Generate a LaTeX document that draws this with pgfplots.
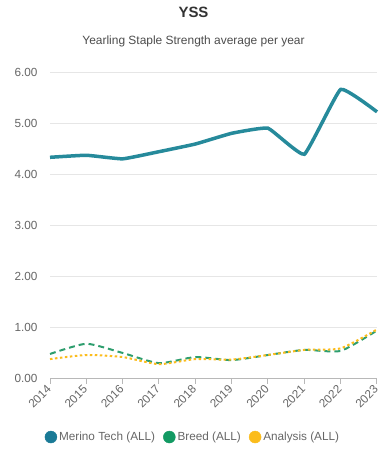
\documentclass[border=0pt]{standalone}
\usepackage{pgfplots}
\pgfplotsset{compat=1.18}
\usepackage{fontspec}
\setmainfont{Liberation Sans}
\definecolor{mcol}{HTML}{268A9B}
\definecolor{mleg}{HTML}{1A7A96}
\definecolor{bcol}{HTML}{2E9E6E}
\definecolor{bleg}{HTML}{139A63}
\definecolor{acol}{HTML}{FBBC1C}
\definecolor{txt}{HTML}{666666}
\definecolor{gridc}{HTML}{E6E6E6}
\begin{document}
\begin{tikzpicture}
\useasboundingbox (0,0) rectangle (387bp,450bp);
\node[font=\fontsize{15}{18}\selectfont\bfseries, text=black!80] at (193.5bp,438bp) {YSS};
\node[font=\fontsize{12}{14}\selectfont, text=black!70] at (193.5bp,409bp) {Yearling Staple Strength average per year};
\begin{axis}[
  at={(50bp,71.5bp)}, anchor=south west,
  scale only axis, width=327bp, height=306.5bp,
  xmin=2014, xmax=2023, ymin=0, ymax=6,
  xtick={2014,...,2023},
  xticklabels={2014,2015,2016,2017,2018,2019,2020,2021,2022,2023},
  ytick={0,1,2,3,4,5,6},
  yticklabel style={/pgf/number format/fixed, /pgf/number format/fixed zerofill, /pgf/number format/precision=2},
  /pgf/number format/assume math mode=true,
  ymajorgrids, grid style={gridc, line width=1bp},
  axis x line*=bottom,
  axis y line*=left,
  y axis line style={draw=none},
  x axis line style={draw=gridc!80!black, line width=1bp, -},
  separate axis lines,
  tick align=outside,
  xtick style={draw=gridc!80!black, line width=1bp},
  major tick length=5bp,
  ytick style={draw=none},
  tick label style={font=\fontsize{11.8}{14}\selectfont, text=txt},
  x tick label style={rotate=45, anchor=east, xshift=0bp, yshift=-2bp},
  y tick label style={xshift=-4bp},
  clip=false,
  legend columns=3,
  legend style={at={(0.437,-0.191)}, anchor=center, draw=none, fill=none,
    font=\fontsize{11.8}{14}\selectfont, text=txt,
    /tikz/every even column/.append style={column sep=6bp},
    inner sep=0pt},
]
\addplot[mcol, line width=3.5bp, smooth, tension=0.2, forget plot] coordinates {
(2014,4.33) (2015,4.37) (2016,4.30) (2017,4.44) (2018,4.59) (2019,4.80) (2020,4.90) (2021,4.39) (2022,5.66) (2023,5.22)};
\addplot[bcol, line width=2bp, dash pattern=on 6bp off 4bp, smooth, tension=0.35, forget plot] coordinates {
(2014,0.48) (2015,0.68) (2016,0.50) (2017,0.30) (2018,0.42) (2019,0.36) (2020,0.46) (2021,0.56) (2022,0.54) (2023,0.94)};
\addplot[acol, line width=2bp, dash pattern=on 2.5bp off 2.5bp, smooth, tension=0.35, forget plot] coordinates {
(2014,0.38) (2015,0.46) (2016,0.42) (2017,0.28) (2018,0.38) (2019,0.37) (2020,0.46) (2021,0.56) (2022,0.59) (2023,0.96)};
\addlegendimage{legend image code/.code={\fill[mleg] (4bp,0bp) circle (6bp);}}
\addlegendentry{Merino Tech (ALL)}
\addlegendimage{legend image code/.code={\fill[bleg] (4bp,0bp) circle (6bp);}}
\addlegendentry{Breed (ALL)}
\addlegendimage{legend image code/.code={\fill[acol] (4bp,0bp) circle (6bp);}}
\addlegendentry{Analysis (ALL)}
\end{axis}
\end{tikzpicture}
\end{document}
